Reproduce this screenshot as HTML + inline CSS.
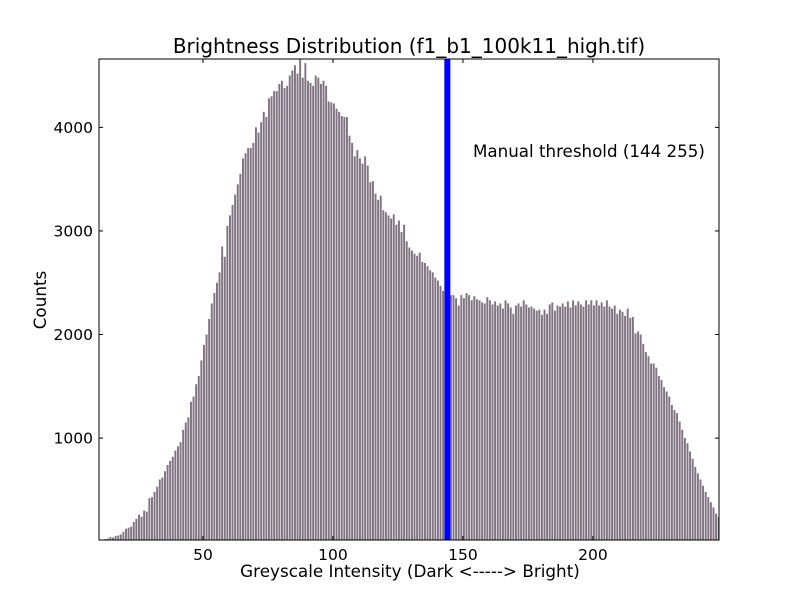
<!DOCTYPE html>
<html><head><meta charset="utf-8"><style>
html,body{margin:0;padding:0;background:#fff;}
svg text{font-family:"DejaVu Sans","Liberation Sans",sans-serif;fill:#000;}
</style></head><body>
<svg id="chart" width="800" height="600" xmlns="http://www.w3.org/2000/svg">
<rect x="0" y="0" width="800" height="600" fill="#fff"/>
<g id="bars"></g>
<g id="axes"></g>
<text x="409" y="53" font-size="20" text-anchor="middle">Brightness Distribution (f1_b1_100k11_high.tif)</text>
<text x="410" y="577" font-size="16.8" text-anchor="middle">Greyscale Intensity (Dark &lt;-----&gt; Bright)</text>
<text x="46" y="300" font-size="16.8" text-anchor="middle" transform="rotate(-90 46 300)">Counts</text>
<text x="473" y="157" font-size="16.7">Manual threshold (144 255)</text>
</svg>
<script>
const startBin = 10;
const counts = [15,20,25,30,45,40,55,60,70,95,
125,135,145,190,220,260,240,300,290,420,
430,480,530,600,620,680,740,780,820,880,
920,960,1080,1150,1200,1350,1400,1520,1600,1750,
1900,2000,2150,2300,2400,2500,2600,2850,2750,3050,
3150,3250,3350,3450,3550,3700,3750,3800,3800,3850,
4000,3950,4050,4150,4100,4280,4300,4350,4350,4420,
4450,4380,4400,4500,4550,4600,4520,4660,4480,4620,
4450,4430,4400,4500,4480,4420,4450,4400,4250,4240,
4230,4180,4150,4110,4100,4100,3920,3850,3720,3780,
3700,3650,3720,3630,3470,3480,3360,3300,3340,3200,
3180,3150,3120,3160,3060,3100,2990,3060,2900,2840,
2810,2780,2760,2790,2700,2690,2660,2620,2600,2550,
2520,2470,2420,2450,2400,2380,2380,2350,2280,2380,
2350,2400,2380,2330,2370,2340,2330,2310,2300,2360,
2330,2290,2320,2280,2300,2250,2330,2300,2260,2200,
2280,2300,2270,2330,2290,2260,2270,2250,2230,2240,
2190,2240,2200,2290,2310,2230,2280,2270,2300,2270,
2320,2260,2330,2280,2320,2290,2270,2330,2290,2330,
2280,2330,2280,2310,2270,2330,2270,2250,2280,2200,
2240,2220,2180,2250,2160,2170,2010,2030,2000,1910,
1830,1790,1720,1720,1680,1600,1560,1490,1450,1400,
1320,1270,1240,1160,1080,1000,950,870,800,720,
660,600,540,480,430,380,330,270,240];
const xTicks = [50,100,150,200];
const yTicks = [1000,2000,3000,4000];
const threshold = [144];

const L=99,R=719,T=59,B=540;
const xMin=10,xMax=248.5,yMin=16,yMax=4660;
const sx=v=>L+(v-xMin)/(xMax-xMin)*(R-L);
const sy=v=>B-(v-yMin)/(yMax-yMin)*(B-T);
const NS="http://www.w3.org/2000/svg";
const bars=document.getElementById('bars');
const axes=document.getElementById('axes');
function mk(tag,attrs,parent){const e=document.createElementNS(NS,tag);for(const k in attrs)e.setAttribute(k,attrs[k]);parent.appendChild(e);return e;}

counts.forEach((c,i)=>{
  const v=startBin+i;
  const x0=sx(v), x1=sx(v+0.75);
  const w=Math.min(x1,R)-x0;
  if(w<=0) return;
  const r=mk('rect',{x:x0,y:sy(c),width:w,height:B-sy(c),fill:'#807382'},bars);
  
  
});

threshold.forEach(t=>{
  const ln=mk('line',{x1:sx(t),x2:sx(t),y1:T,y2:B,stroke:'#0000ff','stroke-width':6},axes);
  
  
});

const frame=mk('rect',{x:L,y:T,width:R-L,height:B-T,fill:'none',stroke:'#000','stroke-width':1},axes);



xTicks.forEach(t=>{
  const x=sx(t);
  mk('line',{x1:x,x2:x,y1:B,y2:B-4,stroke:'#000'},axes);
  mk('line',{x1:x,x2:x,y1:T,y2:T+4,stroke:'#000'},axes);
  const tx=mk('text',{x:x,y:B+20,'font-size':15.5,'text-anchor':'middle'},axes);
  tx.textContent=t;
  
  
});
yTicks.forEach(t=>{
  const y=sy(t);
  mk('line',{x1:L,x2:L+4,y1:y,y2:y,stroke:'#000'},axes);
  mk('line',{x1:R,x2:R-4,y1:y,y2:y,stroke:'#000'},axes);
  const tx=mk('text',{x:L-6,y:y+5.5,'font-size':15.5,'text-anchor':'end'},axes);
  tx.textContent=t;
  
  
});
</script>
</body></html>
